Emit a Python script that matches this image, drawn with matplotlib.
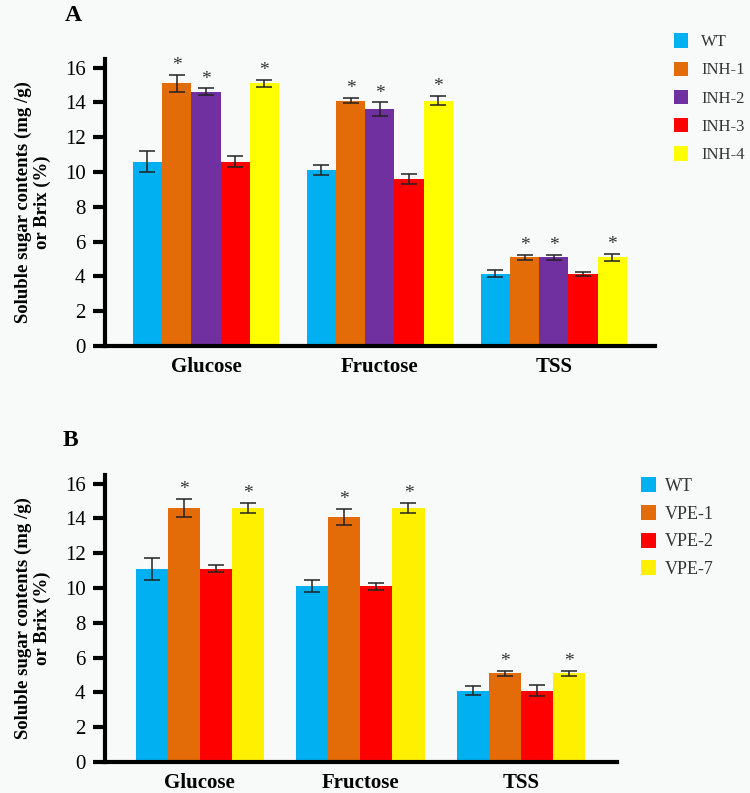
import matplotlib
matplotlib.use("Agg")
import matplotlib.pyplot as plt
from matplotlib.patches import Patch
import numpy as np

categories = ["Glucose", "Fructose", "TSS"]

# Panel A
a_series = ["WT", "INH-1", "INH-2", "INH-3", "INH-4"]
a_colors = ["#00B0F0", "#E36C09", "#7030A0", "#FF0000", "#FFFF00"]
a_values = [
    [10.6, 10.1, 4.15],
    [15.1, 14.1, 5.1],
    [14.6, 13.6, 5.1],
    [10.6, 9.6, 4.15],
    [15.1, 14.1, 5.1],
]
a_errors = [
    [0.6, 0.3, 0.2],
    [0.5, 0.15, 0.15],
    [0.2, 0.4, 0.15],
    [0.3, 0.3, 0.12],
    [0.2, 0.25, 0.2],
]
a_signif = [False, True, True, False, True]

# Panel B
b_series = ["WT", "VPE-1", "VPE-2", "VPE-7"]
b_colors = ["#00B0F0", "#E36C09", "#FF0000", "#FFF000"]
b_values = [
    [11.1, 10.1, 4.1],
    [14.6, 14.1, 5.1],
    [11.1, 10.1, 4.1],
    [14.6, 14.6, 5.1],
]
b_errors = [
    [0.65, 0.35, 0.25],
    [0.5, 0.45, 0.15],
    [0.2, 0.2, 0.3],
    [0.3, 0.3, 0.15],
]
b_signif = [False, True, False, True]

yticks = [0, 2, 4, 6, 8, 10, 12, 14, 16]
ylabel = "Soluble sugar contents (mg /g)\nor Brix (%)"

plt.rcParams["font.family"] = ["Liberation Serif", "DejaVu Serif"]
bg = "#f8f9f9"

fig = plt.figure(figsize=(7.5, 7.93), dpi=100, facecolor=bg)


def draw_panel(ax, series, colors, values, errors, signif, width, xlim):
    n = len(series)
    x = np.arange(len(categories))
    for i in range(n):
        pos = x + (i - (n - 1) / 2) * width
        ax.bar(pos, values[i], width=width, color=colors[i], edgecolor="none",
               yerr=errors[i], capsize=5.5,
               error_kw=dict(ecolor="#222222", elinewidth=1.1, capthick=1.1),
               label=series[i], zorder=2)
        if signif[i]:
            for p, v, e in zip(pos, values[i], errors[i]):
                ax.text(p, v + e + 0.05, "*", ha="center", va="bottom",
                        fontsize=14, color="#333333")
    ax.set_xlim(*xlim)
    ax.set_ylim(0, 16.5)
    ax.set_yticks(yticks)
    ax.set_xticks(x)
    ax.set_xticklabels(categories, fontsize=15, fontweight="bold")
    ax.tick_params(axis="x", length=0, pad=8)
    ax.tick_params(axis="y", length=9, width=3, direction="out", labelsize=15, pad=5)
    for s in ["top", "right"]:
        ax.spines[s].set_visible(False)
    for s in ["left", "bottom"]:
        ax.spines[s].set_linewidth(3)
    ax.set_facecolor(bg)
    ax.set_ylabel(ylabel, fontsize=13.5, fontweight="bold", labelpad=10,
                  linespacing=1.1)


axA = fig.add_axes([0.14, 0.5637, 0.733, 0.362])
draw_panel(axA, a_series, a_colors, a_values, a_errors, a_signif, 0.168, (-0.58, 2.58))
axB = fig.add_axes([0.14, 0.0391, 0.683, 0.362])
draw_panel(axB, b_series, b_colors, b_values, b_errors, b_signif, 0.2, (-0.59, 2.6))

fig.text(0.087, 0.981, "A", fontsize=17, fontweight="bold", ha="left", va="center")
fig.text(0.084, 0.445, "B", fontsize=17, fontweight="bold", ha="left", va="center")

hA = [Patch(facecolor=c, edgecolor="none") for c in a_colors]
fig.legend(hA, a_series, loc="upper left", bbox_to_anchor=(0.899, 0.958),
           frameon=False, fontsize=12, handlelength=0.85, handleheight=0.95,
           labelspacing=0.68, handletextpad=0.75, borderpad=0, borderaxespad=0,
           labelcolor="#333333")
hB = [Patch(facecolor=c, edgecolor="none") for c in b_colors]
fig.legend(hB, b_series, loc="upper left", bbox_to_anchor=(0.855, 0.398),
           frameon=False, fontsize=13, handlelength=0.8, handleheight=0.9,
           labelspacing=0.55, handletextpad=0.5, borderpad=0, borderaxespad=0,
           labelcolor="#333333")

fig.savefig("out.png", dpi=100, facecolor=bg)
